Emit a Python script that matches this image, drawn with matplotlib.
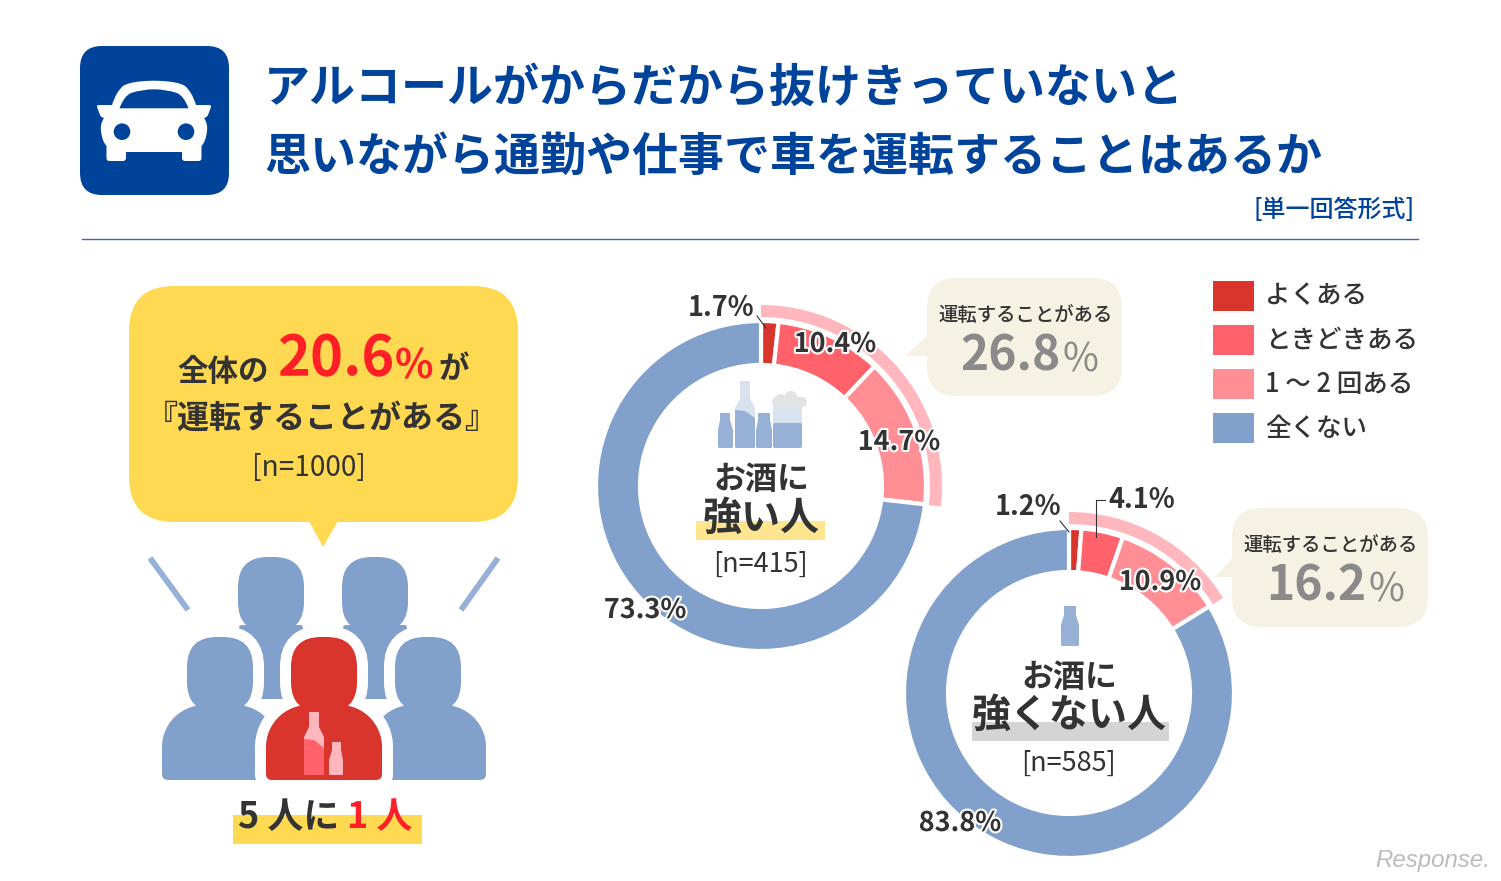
#!/usr/bin/env python3
"""Drink-driving survey infographic: two donuts, callouts and pictograms."""

import matplotlib
matplotlib.use('Agg')
import matplotlib.pyplot as plt
import matplotlib.patheffects as pe
from matplotlib.patches import Circle, FancyBboxPatch, PathPatch, Polygon, Rectangle
from matplotlib.path import Path

plt.rcParams['font.family'] = ['Noto Sans CJK JP', 'DejaVu Sans']

# Data
TITLE_LINES = ['アルコールがからだから抜けきっていないと',
               '思いながら通勤や仕事で車を運転することはあるか']
CATEGORIES = ['よくある', 'ときどきある', '1 〜 2 回ある', '全くない']
STRONG_VALUES = [1.7, 10.4, 14.7, 73.3]
WEAK_VALUES = [1.2, 4.1, 10.9, 83.8]
STRONG_TOTAL = 26.8
WEAK_TOTAL = 16.2

# Colours
BLUE = '#00439b'
DARK = '#333333'
YELLOW = '#ffd952'
RED_TEXT = '#ff1f27'
CREAM = '#f5f1e3'
STEEL = '#82a0cc'
STEEL_SOFT = '#96b0d6'
STEEL_PALE = '#d9e2ef'
PALE_PINK = '#ffb7bd'
SEGMENT_COLORS = ['#d9352c', '#ff626a', '#ff8e95', STEEL]

fig = plt.figure(figsize=(15.01, 8.81), dpi=100, facecolor='white')
ax = fig.add_axes([0, 0, 1, 1])


def label(x, y, s, px, color=DARK, weight='regular', ha='center', va='center', halo=0):
    """Text with the size given in pixels; y is the visual centre of the glyphs."""
    t = ax.text(x, y + 3, s, fontsize=px * 0.72, color=color, fontweight=weight,
                ha=ha, va=va, zorder=6)
    if halo:
        t.set_path_effects([pe.withStroke(linewidth=halo, foreground='white')])
    return t


def round_box(x0, y0, x1, y1, r, color, **kw):
    box = FancyBboxPatch((x0 + r, y0 + r), x1 - x0 - 2 * r, y1 - y0 - 2 * r,
                         boxstyle=f'round,pad={r},rounding_size={r}',
                         facecolor=color, edgecolor=kw.pop('edgecolor', 'none'),
                         linewidth=kw.pop('linewidth', 0), **kw)
    ax.add_patch(box)
    return box


def shoulders(x0, x1, top, bottom, rt=42, rb=6):
    """Upper body outline: large round shoulders, small bottom corners."""
    k = 0.45
    verts = [(x0, bottom - rb), (x0, top + rt),
             (x0, top + rt * k), (x0 + rt * k, top), (x0 + rt, top),
             (x1 - rt, top),
             (x1 - rt * k, top), (x1, top + rt * k), (x1, top + rt),
             (x1, bottom - rb),
             (x1, bottom), (x1 - rb, bottom),
             (x0 + rb, bottom),
             (x0, bottom), (x0, bottom - rb), (x0, bottom - rb)]
    codes = [Path.MOVETO, Path.LINETO, Path.CURVE4, Path.CURVE4, Path.CURVE4, Path.LINETO,
             Path.CURVE4, Path.CURVE4, Path.CURVE4, Path.LINETO,
             Path.CURVE3, Path.CURVE3, Path.LINETO,
             Path.CURVE3, Path.CURVE3, Path.CLOSEPOLY]
    return Path(verts, codes)


def front_person(cx, color, halo=22):
    head = dict(edgecolor='white', linewidth=halo * 0.72)
    ax.add_patch(PathPatch(shoulders(cx - 58, cx + 58, 705, 780), facecolor=color,
                           edgecolor='white', linewidth=halo * 0.72))
    round_box(cx - 33, 637, cx + 33, 712, 30, color, **head)
    ax.add_patch(PathPatch(shoulders(cx - 58, cx + 58, 705, 780), facecolor=color,
                           edgecolor='none'))
    round_box(cx - 33, 637, cx + 33, 712, 30, color)


def back_person(cx, color):
    round_box(cx - 33, 557, cx + 33, 632, 30, color)
    round_box(cx - 32, 625, cx + 32, 631, 3, color)
    round_box(cx - 28, 628, cx + 28, 699, 3, color)


def car_path(c):
    """Front view of a car, symmetric around x = c."""
    right = [(Path.CURVE3, 24, 81), (Path.CURVE3, 31, 86),
             (Path.CURVE3, 38, 92), (Path.CURVE3, 42, 105),
             (Path.LINETO, 55, 105), (Path.CURVE3, 57.5, 105), (Path.CURVE3, 57, 107),
             (Path.LINETO, 54, 115), (Path.CURVE3, 53, 117.5), (Path.CURVE3, 50, 118),
             (Path.CURVE3, 54, 124), (Path.CURVE3, 53, 131),
             (Path.CURVE3, 52, 141), (Path.CURVE3, 47.5, 146),
             (Path.LINETO, 47.5, 158), (Path.CURVE3, 47.5, 161), (Path.CURVE3, 45, 161),
             (Path.LINETO, 31, 161), (Path.CURVE3, 28, 161), (Path.CURVE3, 28, 158),
             (Path.LINETO, 28, 152)]
    verts = [(c, 80.7)]
    codes = [Path.MOVETO]
    for code, dx, y in right:
        verts.append((c + dx, y))
        codes.append(code)
    # left half runs back up: same points mirrored, on-curve and control points swapped
    pts = [(0, 80.7)] + [(dx, y) for _, dx, y in right]
    kinds = [code for code, _, _ in right]
    verts.append((c - pts[-1][0], pts[-1][1]))
    codes.append(Path.LINETO)
    for i in range(len(pts) - 1, 0, -1):
        verts.append((c - pts[i - 1][0], pts[i - 1][1]))
        codes.append(kinds[i - 1])
    verts.append((c, 80.7))
    codes.append(Path.CLOSEPOLY)
    return Path(verts, codes)


def car_window(c):
    verts = [(c - 34.5, 108.3), (c + 34.5, 108.3),
             (c + 30, 96), (c + 23, 93), (c + 12, 89.3), (c, 89.3),
             (c - 12, 89.3), (c - 23, 93), (c - 30, 96), (c - 34.5, 108.3), (c - 34.5, 108.3)]
    codes = [Path.MOVETO, Path.LINETO, Path.CURVE3, Path.CURVE3, Path.CURVE3, Path.CURVE3,
             Path.CURVE3, Path.CURVE3, Path.CURVE3, Path.CURVE3, Path.CLOSEPOLY]
    return Path(verts, codes)


def bottle_outline(x0, x1, neck0, neck1, top, shoulder, bottom):
    return [(neck0, top), (neck1, top), (neck1, shoulder - 5), (x1, shoulder + 5),
            (x1, bottom - 1), (x1 - 1, bottom), (x0 + 1, bottom), (x0, bottom - 1),
            (x0, shoulder + 5), (neck0, shoulder - 5)]


def bottle(x0, x1, neck0, neck1, top, shoulder, bottom, color):
    ax.add_patch(Polygon(bottle_outline(x0, x1, neck0, neck1, top, shoulder, bottom),
                         closed=True, facecolor=color, edgecolor='none'))


def filled_bottle(x0, x1, neck0, neck1, top, shoulder, bottom, pale, liquid, y0, y1):
    """Bottle with a sloped liquid surface running from y0 (left) to y1 (right)."""
    bottle(x0, x1, neck0, neck1, top, shoulder, bottom, pale)
    ax.add_patch(Polygon([(x0, y0), ((x0 + x1) / 2, y0 + 1), (x1, y1), (x1, bottom - 1),
                          (x1 - 1, bottom), (x0 + 1, bottom), (x0, bottom - 1)],
                         closed=True, facecolor=liquid, edgecolor='none'))


def donut(cx, cy, values, total):
    ax.pie(values, colors=SEGMENT_COLORS, center=(cx, cy), radius=165, startangle=-90,
           counterclock=True, frame=True,
           wedgeprops=dict(width=44, edgecolor='white', linewidth=3))
    ax.pie([total, 100 - total], colors=[PALE_PINK, 'none'], center=(cx, cy), radius=181,
           startangle=-90, counterclock=True, frame=True,
           wedgeprops=dict(width=12, edgecolor='none'))


def callout(x0, y0, x1, y1, tail, total):
    ax.add_patch(Polygon(tail, closed=True, facecolor=CREAM, edgecolor='none'))
    round_box(x0, y0, x1, y1, 30, CREAM)
    cx = (x0 + x1) / 2
    label(cx + 1, y0 + 34, '運転することがある', 19.4, weight='medium')
    label(cx + 36, y0 + 75, f'{total}', 48, color='#8a8a8a', weight='bold', ha='right')
    label(cx + 38, y0 + 80, '%', 39, color='#8a8a8a', ha='left')


# Header
CAR_C = 154
round_box(80, 46, 229, 195, 22, BLUE)
ax.add_patch(PathPatch(car_path(CAR_C), facecolor='white', edgecolor='none'))
ax.add_patch(PathPatch(car_window(CAR_C), facecolor=BLUE, edgecolor='none'))
ax.add_patch(Circle((CAR_C - 32, 131.7), 8.3, facecolor=BLUE, edgecolor='none'))
ax.add_patch(Circle((CAR_C + 32, 131.7), 8.3, facecolor=BLUE, edgecolor='none'))

label(264, 85, TITLE_LINES[0], 46, color=BLUE, weight='bold', ha='left')
label(264, 154, TITLE_LINES[1], 46, color=BLUE, weight='bold', ha='left')
label(1415, 207, '[単一回答形式]', 24, color=BLUE, weight='medium', ha='right')
ax.plot([82, 1418], [239, 239], color='#3f68a8', linewidth=1)

# Yellow speech bubble
ax.add_patch(Polygon([(309, 521), (338, 521), (323, 547)], closed=True, facecolor=YELLOW,
                     edgecolor='none'))
round_box(129, 286, 518, 522, 45, YELLOW)
label(177, 369, '全体の', 30.5, weight='bold', ha='left')
label(277, 356, '20.6', 56, color=RED_TEXT, weight='bold', ha='left')
label(395, 364, '%', 40, color=RED_TEXT, weight='bold', ha='left')
label(438, 366, 'が', 30.5, weight='bold', ha='left')
label(322, 416, '『運転することがある』', 32, weight='bold')
label(309, 465, '[n=1000]', 28)

# Pictogram of five people
ax.plot([150, 188], [558, 610], color=STEEL_SOFT, linewidth=4.2, solid_capstyle='butt')
ax.plot([498, 461], [558, 610], color=STEEL_SOFT, linewidth=4.2, solid_capstyle='butt')
back_person(271, STEEL)
back_person(375, STEEL)
front_person(220, STEEL)
front_person(428, STEEL)
front_person(324, SEGMENT_COLORS[0])
filled_bottle(304, 324, 309, 319, 712, 732, 775, PALE_PINK, '#ff626a', 739, 748)
bottle(329, 343, 332, 341, 742, 755, 775, PALE_PINK)

ax.add_patch(Rectangle((233, 815), 189, 29, facecolor=YELLOW, edgecolor='none'))
label(238, 815, '5 人に', 36, weight='bold', ha='left')
label(347, 815, '1 人', 36, color=RED_TEXT, weight='bold', ha='left')

# Donuts
donut(761, 486, STRONG_VALUES, STRONG_TOTAL)
donut(1069, 693, WEAK_VALUES, WEAK_TOTAL)

# Drink icons, strong group
bottle(718, 733, 720, 730, 413, 425, 448, STEEL_SOFT)
filled_bottle(735, 755, 740, 750, 381, 403, 448, STEEL_PALE, STEEL_SOFT, 410, 418)
bottle(756, 772, 758, 770, 413, 425, 448, STEEL_SOFT)
round_box(773, 398, 802, 448, 2, STEEL_PALE)
round_box(773, 423, 802, 448, 2, STEEL_SOFT)
round_box(772, 397, 807, 407, 5, '#e3e3e3')
ax.add_patch(Circle((791, 397), 6, facecolor='#e3e3e3', edgecolor='none'))
ax.add_patch(Circle((781, 401), 7, facecolor='#e3e3e3', edgecolor='none'))

ax.add_patch(Rectangle((696, 521), 129, 19, facecolor='#ffe58f', edgecolor='none'))
label(761, 477, 'お酒に', 32, weight='bold')
label(761, 515, '強い人', 39, weight='bold')
label(761, 561, '[n=415]', 27)

# Icon and labels, weak group
bottle(1061, 1079, 1064, 1076, 606, 620, 646, STEEL_SOFT)
ax.add_patch(Rectangle((972, 722), 197, 19, facecolor='#d4d4d4', edgecolor='none'))
label(1069, 675, 'お酒に', 32, weight='bold')
label(1069, 712, '強くない人', 39, weight='bold')
label(1069, 760, '[n=585]', 27)

# Percent labels and leaders
ax.plot([757, 766], [316, 328], color=DARK, linewidth=0.8, zorder=5)
ax.plot([1060, 1069], [521, 532], color=DARK, linewidth=0.8, zorder=5)
ax.plot([1105, 1096, 1096], [500, 500, 537], color=DARK, linewidth=0.8, zorder=5)
label(721, 305, f'{STRONG_VALUES[0]}%', 27, weight='bold')
label(835, 341, f'{STRONG_VALUES[1]}%', 27, weight='bold', halo=3)
label(899, 439, f'{STRONG_VALUES[2]}%', 27, weight='bold', halo=3)
label(645, 607, f'{STRONG_VALUES[3]}%', 27, weight='bold', halo=3)
label(1028, 504, f'{WEAK_VALUES[0]}%', 27, weight='bold')
label(1142, 497, f'{WEAK_VALUES[1]}%', 27, weight='bold')
label(1160, 579, f'{WEAK_VALUES[2]}%', 27, weight='bold', halo=3)
label(960, 820, f'{WEAK_VALUES[3]}%', 27, weight='bold', halo=3)

# Callouts
callout(927, 278, 1122, 396, [(905, 356), (930, 333), (930, 356)], STRONG_TOTAL)
callout(1232, 508, 1428, 627, [(1215, 577), (1235, 555), (1235, 577)], WEAK_TOTAL)

# Legend
for i, (name, color) in enumerate(zip(CATEGORIES, SEGMENT_COLORS)):
    ax.add_patch(Rectangle((1213, 281 + 44 * i), 41, 30, facecolor=color, edgecolor='none'))
    label(1265, 293 + 44 * i, name, 25.5, weight='medium', ha='left')

# Source mark
t = label(1375, 858, 'Response.', 24, color='#bcbcbc', ha='left')
t.set_family('Liberation Sans')
t.set_style('italic')

ax.set_xlim(0, 1501)
ax.set_ylim(881, 0)
ax.set_aspect('auto')
ax.axis('off')

fig.savefig('out.png', dpi=100, facecolor='white')
